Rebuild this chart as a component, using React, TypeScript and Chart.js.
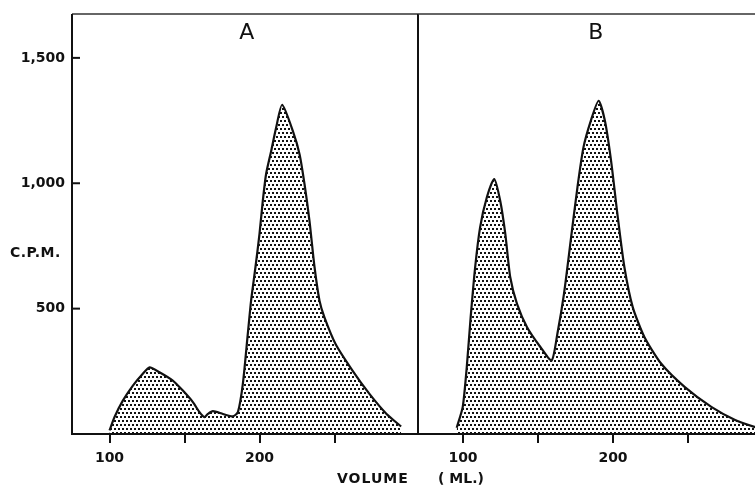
import React, { useEffect, useRef } from "react";
import { Chart, registerables } from "chart.js";

Chart.register(...registerables);

// Panel A: elution volume (ml) and counts per minute
const volumeA = [100, 103.3, 108.9, 115.6, 122.2, 126.7, 133.3, 142.2, 148.9, 155.6, 160, 163.3, 165.6, 168.9, 175.6, 182.2, 185.6, 188.9, 192.2, 194.4, 197.3, 200, 202.2, 204.4, 207.8, 211.1, 215.1, 222.2, 226.7, 230, 233.3, 236.7, 240, 243.3, 250.7, 262, 273.3, 284.7, 294.4];
const cpmA = [14, 67, 133, 193, 240, 266, 246, 213, 173, 127, 87, 67, 80, 91, 80, 70, 87, 200, 399, 532, 665, 798, 930, 1037, 1129, 1222, 1313, 1209, 1116, 997, 851, 665, 532, 465, 359, 253, 160, 80, 30];

// Panel B
const volumeB = [95.8, 99.8, 102.5, 105.1, 108.1, 111.4, 115.9, 120.8, 124.8, 128.2, 131.5, 136, 142.7, 151.7, 159.1, 162.9, 167.3, 171.8, 176.3, 180.3, 185.2, 190.4, 194.6, 198.7, 203.2, 207.6, 213.2, 221, 232.2, 247.9, 265.8, 281.4, 296, 300.7];
const cpmB = [25, 107, 266, 465, 665, 824, 944, 1017, 930, 798, 625, 519, 426, 346, 293, 399, 558, 771, 984, 1143, 1249, 1329, 1249, 1090, 864, 665, 505, 386, 280, 187, 107, 56, 25, 18];

const xTickValues = [100, 150, 200, 250];
const xTickLabels = ["100", "", "200", ""];
const yTickValues = [500, 1000, 1500];
const yTickLabels = ["500", "1,000", "1,500"];
const rightTickValues = [500, 1000];
const panelLabels = ["A", "B"];
const yAxisTitle = "C.P.M.";
const xAxisTitleParts = ["VOLUME", "( ML.)"];

const FONT = "'DejaVu Sans', sans-serif";

function makePattern(): CanvasPattern | string {
  const c = document.createElement("canvas");
  c.width = 4;
  c.height = 8;
  const g = c.getContext("2d");
  if (!g) return "#888";
  g.fillStyle = "#111";
  g.fillRect(0, 0, 2, 2);
  g.fillRect(2, 4, 2, 2);
  return g.createPattern(c, "repeat") || "#888";
}

function line(ctx: CanvasRenderingContext2D, x1: number, y1: number, x2: number, y2: number) {
  ctx.beginPath();
  ctx.moveTo(x1, y1);
  ctx.lineTo(x2, y2);
  ctx.stroke();
}

function framePlugin(isA: boolean) {
  return {
    id: "frame" + (isA ? "A" : "B"),
    afterDraw(chart: any) {
      const ctx: CanvasRenderingContext2D = chart.ctx;
      const a = chart.chartArea;
      const ys = chart.scales.y;
      const xs = chart.scales.x;
      ctx.save();
      ctx.lineCap = "butt";
      // top border
      ctx.strokeStyle = "#333";
      ctx.lineWidth = 1.5;
      line(ctx, a.left, a.top, a.right, a.top);
      // bottom axis
      ctx.strokeStyle = "#111";
      ctx.lineWidth = 2;
      line(ctx, a.left - (isA ? 1 : 0), a.bottom, a.right, a.bottom);
      ctx.fillStyle = "#111";
      if (isA) {
        line(ctx, a.left, a.top, a.left, a.bottom + 1);
        line(ctx, a.right, a.top, a.right, a.bottom + 1);
        for (const v of yTickValues) {
          const y = ys.getPixelForValue(v);
          line(ctx, a.left, y, a.left + 8, y);
        }
        ctx.font = `bold 14px ${FONT}`;
        ctx.textBaseline = "middle";
        ctx.textAlign = "left";
        (ctx as any).letterSpacing = "0.5px";
        ctx.fillText(yAxisTitle, 10, 253);
        (ctx as any).letterSpacing = "1px";
        ctx.fillText(xAxisTitleParts[0], 337, 479);
        (ctx as any).letterSpacing = "0px";
        ctx.font = `22px ${FONT}`;
        ctx.textAlign = "center";
        ctx.textBaseline = "alphabetic";
        ctx.fillText(panelLabels[0], xs.getPixelForValue(191.5), 39);
      } else {
        line(ctx, a.right, a.top, a.right, a.bottom + 1);
        for (const v of rightTickValues) {
          const y = ys.getPixelForValue(v);
          line(ctx, a.right - 9, y, a.right, y);
        }
        ctx.font = `bold 14px ${FONT}`;
        ctx.textBaseline = "middle";
        ctx.textAlign = "left";
        (ctx as any).letterSpacing = "0px";
        ctx.fillText(xAxisTitleParts[1], 20, 479);
        ctx.font = `22px ${FONT}`;
        ctx.textAlign = "center";
        ctx.textBaseline = "alphabetic";
        ctx.fillText(panelLabels[1], xs.getPixelForValue(188.5), 39);
      }
      ctx.restore();
    },
  };
}

function makeConfig(isA: boolean, pattern: CanvasPattern | string): any {
  const vols = isA ? volumeA : volumeB;
  const cpms = isA ? cpmA : cpmB;
  const xmin = isA ? 75 : 70;
  const xmax = xmin + 346 / 1.5;
  const yScale: any = {
    type: "linear",
    min: 0,
    max: 1675,
    display: isA,
    afterBuildTicks: (s: any) => {
      s.ticks = yTickValues.map((v) => ({ value: v }));
    },
    ticks: {
      color: "#111",
      padding: 7,
      font: { family: FONT, size: 14, weight: "bold" },
      callback: (v: number) => {
        const i = yTickValues.indexOf(v);
        return i >= 0 ? yTickLabels[i] : "";
      },
    },
    grid: { display: false, drawTicks: false },
    border: { display: false },
  };
  if (isA) {
    yScale.afterFit = (s: any) => {
      s.width = 72;
      s.paddingTop = 0;
      s.paddingBottom = 0;
    };
  }
  return {
    type: "line",
    data: {
      datasets: [
        {
          data: vols.map((v, i) => ({ x: v, y: cpms[i] })),
          borderColor: "#111",
          borderWidth: 2.2,
          backgroundColor: pattern,
          fill: "origin",
          tension: 0.22,
          pointRadius: 0,
        },
      ],
    },
    options: {
      responsive: false,
      animation: false,
      layout: { padding: { top: 14, left: 0, right: isA ? 2 : 4, bottom: 0 } },
      plugins: {
        legend: { display: false },
        tooltip: { enabled: false },
        title: { display: false },
      },
      scales: {
        x: {
          type: "linear",
          min: xmin,
          max: xmax,
          afterFit: (s: any) => {
            s.height = 54;
          },
          afterBuildTicks: (s: any) => {
            s.ticks = xTickValues.map((v) => ({ value: v }));
          },
          ticks: {
            autoSkip: false,
            maxRotation: 0,
            color: "#111",
            padding: 7,
            font: { family: FONT, size: 14, weight: "bold" },
            callback: (v: number) => {
              const i = xTickValues.indexOf(v);
              return i >= 0 ? xTickLabels[i] : "";
            },
          },
          grid: {
            display: true,
            drawOnChartArea: false,
            drawTicks: true,
            tickLength: 9,
            color: "#111",
            lineWidth: 2,
          },
          border: { display: false },
        },
        y: yScale,
      },
    },
    plugins: [framePlugin(isA)],
  };
}

export default function App() {
  const refA = useRef<HTMLCanvasElement | null>(null);
  const refB = useRef<HTMLCanvasElement | null>(null);

  useEffect(() => {
    if (!refA.current || !refB.current) return;
    const pattern = makePattern();
    const chartA = new Chart(refA.current, makeConfig(true, pattern));
    const chartB = new Chart(refB.current, makeConfig(false, pattern));
    return () => {
      chartA.destroy();
      chartB.destroy();
    };
  }, []);

  return (
    <div
      style={{
        position: "fixed",
        left: 0,
        top: 0,
        width: 755,
        height: 488,
        overflow: "hidden",
        background: "#fff",
      }}
    >
      <canvas ref={refA} width={420} height={488} style={{ position: "absolute", left: 0, top: 0 }} />
      <canvas ref={refB} width={350} height={488} style={{ position: "absolute", left: 418, top: 0 }} />
    </div>
  );
}
